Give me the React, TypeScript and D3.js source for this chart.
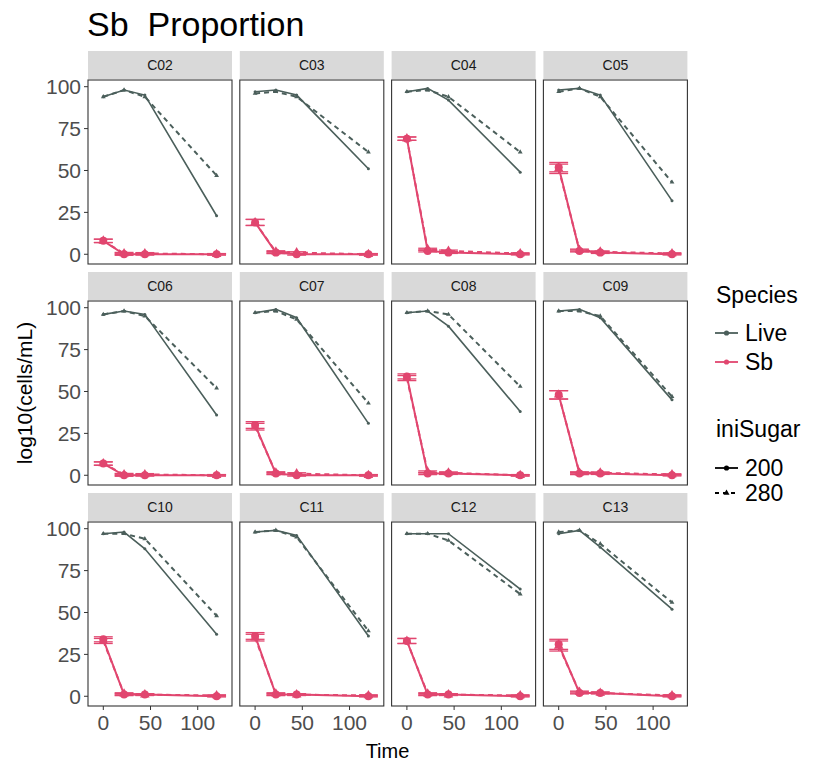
import React from "react";
import * as d3 from "d3";

const panels = ["C02", "C03", "C04", "C05", "C06", "C07", "C08", "C09", "C10", "C11", "C12", "C13"];
const times = [0, 22, 44, 120];

const live200 = [
  [94, 98, 95, 23],
  [97, 98, 95, 51],
  [97, 99, 92, 49],
  [98, 99, 95, 32],
  [96, 98, 96, 36],
  [97, 99, 94, 31],
  [97, 98, 89, 38],
  [98, 99, 94, 45],
  [97, 98, 88, 37],
  [98, 99, 96, 36],
  [97, 97, 97, 64],
  [97, 99, 89, 52],
];
const live280 = [
  [94, 98, 94, 47],
  [96, 97, 94, 61],
  [97, 98, 94, 61],
  [97, 99, 94, 43],
  [96, 98, 95, 52],
  [97, 98, 93, 43],
  [97, 98, 96, 53],
  [98, 98, 95, 47],
  [97, 97, 94, 48],
  [98, 99, 95, 39],
  [97, 97, 93, 61],
  [98, 99, 91, 56],
];
const sb200 = [
  [8, 0, 0, 0],
  [19, 1, 0, 0],
  [69, 2, 1, 0],
  [52, 2, 1, 0],
  [7, 0, 0, 0],
  [30, 1, 0, 0],
  [59, 1, 1, 0],
  [48, 1, 1, 0],
  [34, 1, 1, 0],
  [36, 1, 1, 0],
  [33, 1, 1, 0],
  [31, 2, 2, 0],
];
const sb280 = [
  [8, 0.5, 0.5, 0],
  [19, 1.5, 1, 0],
  [69, 3, 2, 0.5],
  [51, 2.5, 1.5, 0.5],
  [7, 0.5, 0.5, 0],
  [29, 1.5, 1, 0],
  [58, 2, 1.5, 0],
  [48, 1.5, 1.5, 0.5],
  [33, 1.5, 1, 0.5],
  [35, 1.5, 1, 0.5],
  [33, 1.5, 1, 0.5],
  [30, 2.5, 2, 0.5],
];
const sbErr0 = [1, 1.8, 1, 2.8, 1, 2, 1.5, 2.5, 1.5, 2, 1.5, 3];
const lateErr = [0.6, 0.5, 0.4];

const yTicks = [0, 25, 50, 75, 100];
const xTicks = [0, 50, 100];
const speciesLabels = ["Live", "Sb"];
const sugarLabels = ["200", "280"];

const LIVE = "#4b5f5b";
const SB = "#e1466f";
const ERR_HALF = 10;

const NCOL = 4;
const PW = 144;
const PH = 184;
const X0 = 88;
const COLSTEP = 151.8;
const Y0 = 51;
const ROWSTEP = 221;
const STRIP = 29;

const x = d3.scaleLinear().domain([-16.2, 136.3]).range([0, PW]);
const y = d3.scaleLinear().domain([-5.8, 104]).range([PH, 0]);
const line = d3
  .line<number>()
  .x((_, i) => x(times[i]))
  .y((d) => y(d));

const tri = d3.symbol().type(d3.symbolTriangle).size(40)();
const triSmall = d3.symbol().type(d3.symbolTriangle).size(10)();
const triLegend = d3.symbol().type(d3.symbolTriangle).size(16)();

function Series({ vals, errs, color, dashed, big, width }) {
  return (
    <g>
      {errs &&
        vals.map((v, i) => (
          <g key={"e" + i} stroke={color} strokeWidth={1.3} fill="none">
            <line x1={x(times[i] - ERR_HALF)} x2={x(times[i] + ERR_HALF)} y1={y(v + errs[i])} y2={y(v + errs[i])} />
            <line x1={x(times[i] - ERR_HALF)} x2={x(times[i] + ERR_HALF)} y1={y(v - errs[i])} y2={y(v - errs[i])} />
            <line x1={x(times[i])} x2={x(times[i])} y1={y(v + errs[i])} y2={y(v - errs[i])} />
          </g>
        ))}
      <path d={line(vals) || ""} fill="none" stroke={color} strokeWidth={width} strokeDasharray={dashed ? "5,4" : undefined} />
      {vals.map((v, i) =>
        dashed ? (
          <path key={"p" + i} d={big ? tri : triSmall} transform={`translate(${x(times[i])},${y(v)})`} fill={color} />
        ) : (
          <circle key={"p" + i} cx={x(times[i])} cy={y(v)} r={big ? 4 : 1.5} fill={color} />
        )
      )}
    </g>
  );
}

export default function App() {
  const font = "'Liberation Sans', Arial, sans-serif";
  return (
    <svg width={822} height={762} style={{ position: "absolute", left: 0, top: 0, background: "#fff" }} fontFamily={font}>
      <rect width={822} height={762} fill="#fff" />
      <text x={87} y={36} fontSize={34} fill="#000" xmlSpace="preserve" style={{ whiteSpace: "pre" }}>Sb  Proportion</text>
      {panels.map((name, k) => {
        const c = k % NCOL;
        const r = Math.floor(k / NCOL);
        const px = X0 + c * COLSTEP;
        const sy = Y0 + r * ROWSTEP;
        const py = sy + STRIP;
        return (
          <g key={name}>
            <rect x={px} y={sy} width={PW} height={STRIP - 1} fill="#d9d9d9" />
            <text x={px + PW / 2} y={sy + 19} textAnchor="middle" fontSize={14} fill="#1a1a1a">{name}</text>
            <g transform={`translate(${px},${py})`}>
              <Series vals={live200[k]} errs={null} color={LIVE} dashed={false} big={false} width={1.6} />
              <Series vals={live280[k]} errs={null} color={LIVE} dashed={true} big={false} width={2} />
              <Series vals={sb200[k]} errs={[sbErr0[k], ...lateErr]} color={SB} dashed={false} big={true} width={2} />
              <Series vals={sb280[k]} errs={[sbErr0[k], ...lateErr]} color={SB} dashed={true} big={true} width={2} />
              <rect x={0} y={0} width={PW} height={PH} fill="none" stroke="#333" strokeWidth={1.1} />
              {c === 0 &&
                yTicks.map((t) => (
                  <g key={"y" + t}>
                    <line x1={-4} x2={0} y1={y(t)} y2={y(t)} stroke="#333" strokeWidth={1} />
                    <text x={-7} y={y(t)} dy="0.36em" textAnchor="end" fontSize={21} fill="#4d4d4d">{t}</text>
                  </g>
                ))}
              {r === 2 &&
                xTicks.map((t) => (
                  <g key={"x" + t}>
                    <line x1={x(t)} x2={x(t)} y1={PH} y2={PH + 4} stroke="#333" strokeWidth={1} />
                    <text x={x(t)} y={PH + 24} textAnchor="middle" fontSize={21} fill="#4d4d4d">{t}</text>
                  </g>
                ))}
            </g>
          </g>
        );
      })}
      <text x={387.5} y={758} textAnchor="middle" fontSize={20} fill="#000">Time</text>
      <text transform="translate(32,393) rotate(-90)" textAnchor="middle" fontSize={21} fill="#000">log10(cells/mL)</text>

      <text x={716} y={303} fontSize={23} fill="#000">Species</text>
      {speciesLabels.map((s, i) => {
        const ly = 333 + i * 29;
        const col = i === 0 ? LIVE : SB;
        return (
          <g key={s}>
            <line x1={715} x2={738} y1={ly} y2={ly} stroke={col} strokeWidth={1.8} />
            <circle cx={726.5} cy={ly} r={2.6} fill={col} />
            <text x={745} y={ly} dy="0.36em" fontSize={23} fill="#000">{s}</text>
          </g>
        );
      })}
      <text x={716} y={437} fontSize={23} fill="#000">iniSugar</text>
      {sugarLabels.map((s, i) => {
        const ly = 468 + i * 25;
        return (
          <g key={s}>
            <line x1={715} x2={738} y1={ly} y2={ly} stroke="#000" strokeWidth={1.8} strokeDasharray={i === 1 ? "4,4" : undefined} />
            {i === 0 ? (
              <circle cx={726.5} cy={ly} r={2.6} fill="#000" />
            ) : (
              <path d={triLegend} transform={`translate(726.5,${ly})`} fill="#000" />
            )}
            <text x={745} y={ly} dy="0.36em" fontSize={23} fill="#000">{s}</text>
          </g>
        );
      })}
    </svg>
  );
}
